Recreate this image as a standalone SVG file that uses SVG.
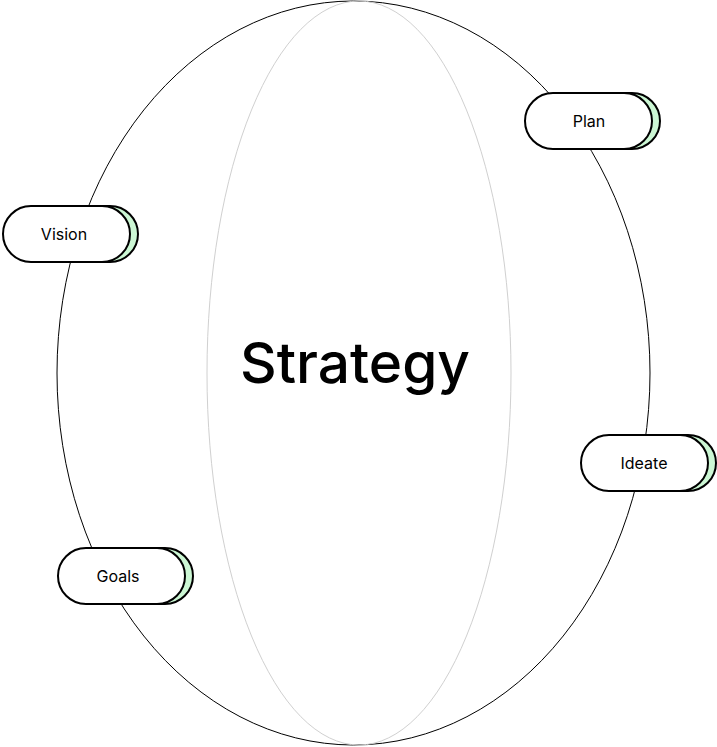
<svg xmlns="http://www.w3.org/2000/svg" width="717" height="747" viewBox="0 0 717 747">
<style>
.back{fill:#ccf7d4;stroke:#000;stroke-width:2}
.front{fill:#fff;stroke:#000;stroke-width:2}
.lbl{font-family:Inter,"Liberation Sans",sans-serif;font-size:16px;fill:#000;text-anchor:middle;dominant-baseline:central}
</style>
<g id="connectors">
<ellipse cx="353.5" cy="373" rx="296.5" ry="372" fill="none" stroke="#000" stroke-width="1"/>
<ellipse cx="359" cy="373" rx="152" ry="372" fill="none" stroke="#d0d0d0" stroke-width="1"/>
</g>
<g id="strategy">
<text x="355" y="363" font-family="Inter,'Liberation Sans',sans-serif" font-size="56" font-weight="500" text-anchor="middle" dominant-baseline="central" textLength="230" lengthAdjust="spacingAndGlyphs">Strategy</text>
</g>
<g id="plan">
<rect class="back" x="533" y="93" width="127" height="56" rx="28"/>
<rect class="front" x="525" y="93" width="127" height="56" rx="28"/>
<text class="lbl" x="589" y="121">Plan</text>
</g>
<g id="vision">
<rect class="back" x="11" y="206" width="127" height="56" rx="28"/>
<rect class="front" x="3" y="206" width="127" height="56" rx="28"/>
<text class="lbl" x="64" y="234">Vision</text>
</g>
<g id="ideate">
<rect class="back" x="589" y="435" width="127" height="56" rx="28"/>
<rect class="front" x="581" y="435" width="127" height="56" rx="28"/>
<text class="lbl" x="644" y="463">Ideate</text>
</g>
<g id="goals">
<rect class="back" x="66" y="548" width="127" height="56" rx="28"/>
<rect class="front" x="58" y="548" width="127" height="56" rx="28"/>
<text class="lbl" x="118" y="576">Goals</text>
</g>
</svg>
